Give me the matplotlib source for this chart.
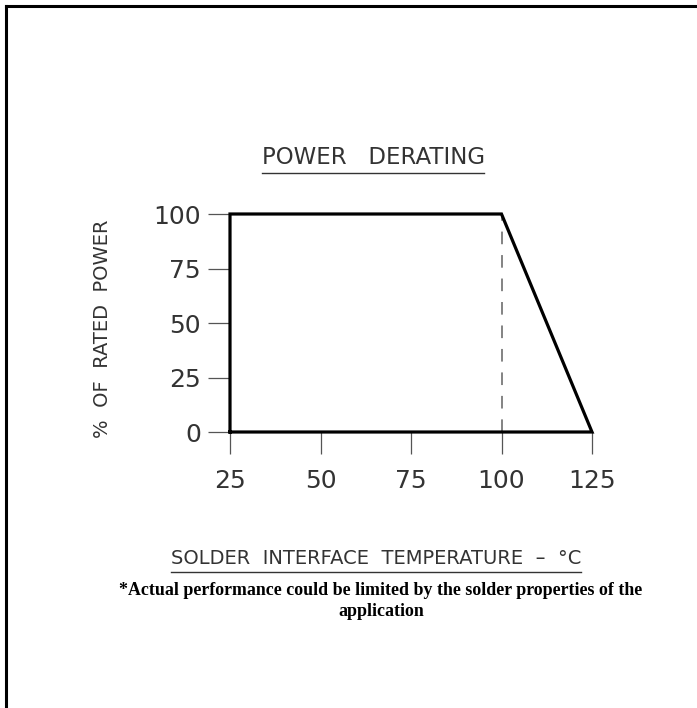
import matplotlib
matplotlib.use("Agg")
import matplotlib.pyplot as plt
from matplotlib.lines import Line2D

# Daten der Derating-Kurve
temp = [25, 25, 100, 125, 25]          # Temperatur in °C
power = [0, 100, 100, 0, 0]            # % der Nennleistung
knee_temp = 100                        # Knickpunkt (gestrichelte Linie)
x_ticks = [25, 50, 75, 100, 125]
y_ticks = [0, 25, 50, 75, 100]

title_txt = "POWER   DERATING"
xlabel_txt = "SOLDER  INTERFACE  TEMPERATURE  \u2013  \u00b0C"
ylabel_txt = "%  OF  RATED  POWER"
note_txt = "*Actual performance could be limited by the solder properties of the\napplication"

W, H = 697, 708
fig = plt.figure(figsize=(W / 100, H / 100), dpi=100)

# Rahmen oben und links
fig.add_artist(Line2D([6 / W, 6 / W], [0, 1 - 6 / H], color="black", lw=2.2))
fig.add_artist(Line2D([6 / W, 1], [1 - 6 / H, 1 - 6 / H], color="black", lw=2.2))

ax = fig.add_axes([230 / W, 1 - 432 / H, 362 / W, 218 / H])
ax.set_xlim(25, 125)
ax.set_ylim(0, 100)
for s in ax.spines.values():
    s.set_visible(False)
ax.patch.set_alpha(0)

ax.plot([knee_temp, knee_temp], [0, 100], color="#7a7a7a", lw=1.3,
        dashes=(7, 6), zorder=2)
ax.plot(temp, power, color="black", lw=2.3, solid_joinstyle="miter",
        clip_on=False, zorder=3)

ax.set_xticks(x_ticks)
ax.set_yticks(y_ticks)
ax.tick_params(axis="x", direction="out", length=16, width=0.9, color="#555555",
               pad=11, labelsize=18, labelcolor="#333333")
ax.tick_params(axis="y", direction="out", length=16, width=0.9, color="#555555",
               pad=5, labelsize=18, labelcolor="#333333")

t1 = fig.text(373 / W, 1 - 157 / H, title_txt, ha="center", va="center",
              fontsize=16.5, color="#333333")
t2 = fig.text(376 / W, 1 - 558 / H, xlabel_txt, ha="center", va="center",
              fontsize=14, color="#333333")
fig.text(103 / W, 1 - 329 / H, ylabel_txt, ha="center", va="center",
         rotation=90, fontsize=14, color="#333333")
fig.text(381 / W, 1 - 601 / H, note_txt, ha="center", va="center",
         fontsize=12.9, fontweight="bold", family="Liberation Serif",
         linespacing=1.25)

# Unterstreichungen unter Titel und Achsenbeschriftung
fig.canvas.draw()
r = fig.canvas.get_renderer()
for t, gap in [(t1, 4), (t2, 4)]:
    bb = t.get_window_extent(r)
    y = (bb.y0 - gap) / H
    fig.add_artist(Line2D([bb.x0 / W, bb.x1 / W], [y, y], color="#333333", lw=1.0))

fig.savefig("out.png", dpi=100)
